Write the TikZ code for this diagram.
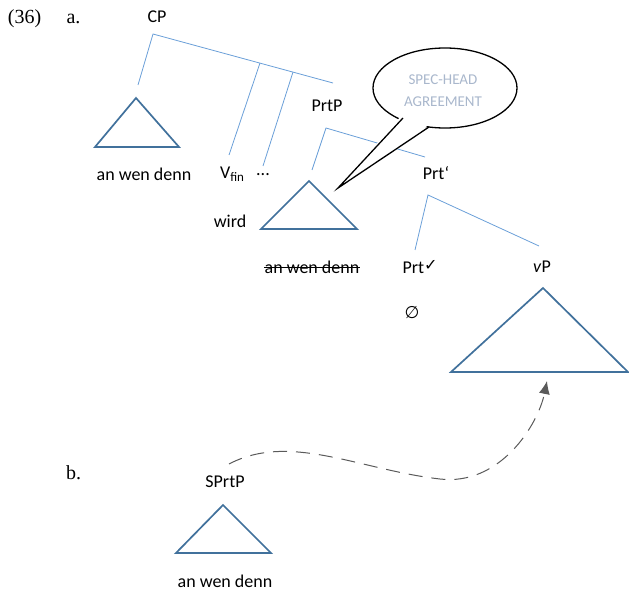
\documentclass[tikz,border=0pt]{standalone}
\usepackage{fontspec}
\newfontfamily\calfont{Carlito}
\newfontfamily\dejavu{DejaVu Sans}
\newfontfamily\serfont{Liberation Serif}
\usetikzlibrary{arrows.meta,shapes.geometric}
\definecolor{branch}{HTML}{6A9FD8}
\definecolor{tri}{HTML}{41719C}
\definecolor{bubbletext}{HTML}{A9B7CC}
\definecolor{arrowgray}{HTML}{5A5A5A}
\begin{document}
\begin{tikzpicture}[x=1pt,y=-1pt,
  lbl/.style={font=\calfont\fontsize{18}{20}\selectfont, inner sep=0pt, anchor=center},
  serlbl/.style={font=\serfont\fontsize{20}{22}\selectfont, inner sep=0pt, anchor=center},
  br/.style={draw=branch, line width=0.8pt},
  tribox/.style={draw=tri, line width=1.7pt, line join=miter}]
\useasboundingbox (0,0) rectangle (629,591);

% numbering
\node[serlbl] (num) at (24.5,19) {(36)};
\node[serlbl] (la) at (73.5,19) {a.};
\node[serlbl] (lb) at (73.5,473) {b.};

% CP
\node[lbl] (cp) at (157,17) {CP};
\coordinate (cpt) at (153,34);
\coordinate (cpl) at (138,85);
\coordinate (cpr) at (333,83);
\coordinate (b1t) at (260,63);
\coordinate (b1b) at (229,155);
\coordinate (b2t) at (293,72);
\coordinate (b2b) at (263,166);
\draw[br] (cpl) -- (cpt) -- (cpr);
\draw[br] (b1t) -- (b1b);
\draw[br] (b2t) -- (b2b);

\coordinate (t1a) at (136,98);
\coordinate (t1l) at (95,147);
\coordinate (t1r) at (179,147);
\draw[tribox] (t1a) -- (t1l) -- (t1r) -- cycle;
\node[lbl] (awd1) at (144,174) {an wen denn};
\node[lbl] (vfin) at (232,174) {V\raisebox{-0.35ex}{\fontsize{13}{13}\selectfont fin}};
\node[lbl] (dots) at (263,175) {...};

% PrtP
\node[lbl] (prtp) at (327,106) {PrtP};
\coordinate (ppt) at (326,128);
\coordinate (ppl) at (312,170);
\coordinate (ppr) at (425,157);
\draw[br] (ppl) -- (ppt) -- (ppr);

\coordinate (t2a) at (309,181);
\coordinate (t2l) at (261,229);
\coordinate (t2r) at (357,229);
\draw[tribox] (t2a) -- (t2l) -- (t2r) -- cycle;
\node[lbl] (wird) at (230,221) {wird};
\node[lbl] (awd2) at (312,267) {an wen denn};
\draw[line width=0.9pt] ([yshift=-0.3pt]awd2.west) -- ([yshift=-0.3pt]awd2.east);

% Prt'
\node[lbl] (prtbar) at (436,173) {Prt‘};
\coordinate (pbt) at (428,195);
\coordinate (pbl) at (415,250);
\coordinate (pbr) at (539,246);
\draw[br] (pbl) -- (pbt) -- (pbr);
\node[lbl] (prt) at (420,267) {Prt{\dejavu\fontsize{16}{16}\selectfont\raisebox{0.25ex}{✓}}};
\node[lbl] (vp) at (542,267) {\textit{v}P};
\node[font=\dejavu\fontsize{17}{17}\selectfont\itshape, inner sep=0pt] (empty) at (412,313) {∅};

\coordinate (t3a) at (543,288);
\coordinate (t3l) at (451,372);
\coordinate (t3r) at (628,372);
\draw[tribox] (t3a) -- (t3l) -- (t3r) -- cycle;

% speech bubble
\coordinate (tailtip) at (338,188);
\coordinate (tail1) at (403,118);
\coordinate (tail2) at (429,127);
\node[ellipse, minimum width=144pt, minimum height=80pt, inner sep=0pt] (bub) at (445,88) {};
\fill[white] (tail1) -- (tailtip) -- (tail2) -- cycle;
\draw[black, line width=1.3pt] (bub.center) ellipse [x radius=72, y radius=40];
\fill[white] ([shift={(-1,-3)}]tail1) -- ([shift={(0,0)}]tailtip) -- ([shift={(1,-3)}]tail2) -- cycle;
\draw[black, line width=1.3pt, line join=miter] (tail1) -- (tailtip) -- (tail2);
\node[font=\calfont\fontsize{15}{17}\selectfont, text=bubbletext, inner sep=0pt] (spec) at (443,80) {SPEC-HEAD};
\node[font=\calfont\fontsize{15}{17}\selectfont, text=bubbletext, inner sep=0pt] (agr) at (443,102) {AGREEMENT};

% b.
\node[lbl] (sprtp) at (225,482) {SPrtP};
\coordinate (t4a) at (223,505);
\coordinate (t4l) at (176,553);
\coordinate (t4r) at (271,553);
\draw[tribox] (t4a) -- (t4l) -- (t4r) -- cycle;
\node[lbl] (awd3) at (225,581.5) {an wen denn};

% movement arrow
\coordinate (mvs) at (229,464);
\coordinate (mvm) at (440,479);
\coordinate (mve) at (547,381);
\draw[arrowgray, line width=1pt, dash pattern=on 14pt off 9pt, -{Latex[length=13pt,width=11pt]}]
  (mvs) .. controls (290,432) and (360,470) .. (mvm) .. controls (500,486) and (538,425) .. (mve);
\end{tikzpicture}
\end{document}
